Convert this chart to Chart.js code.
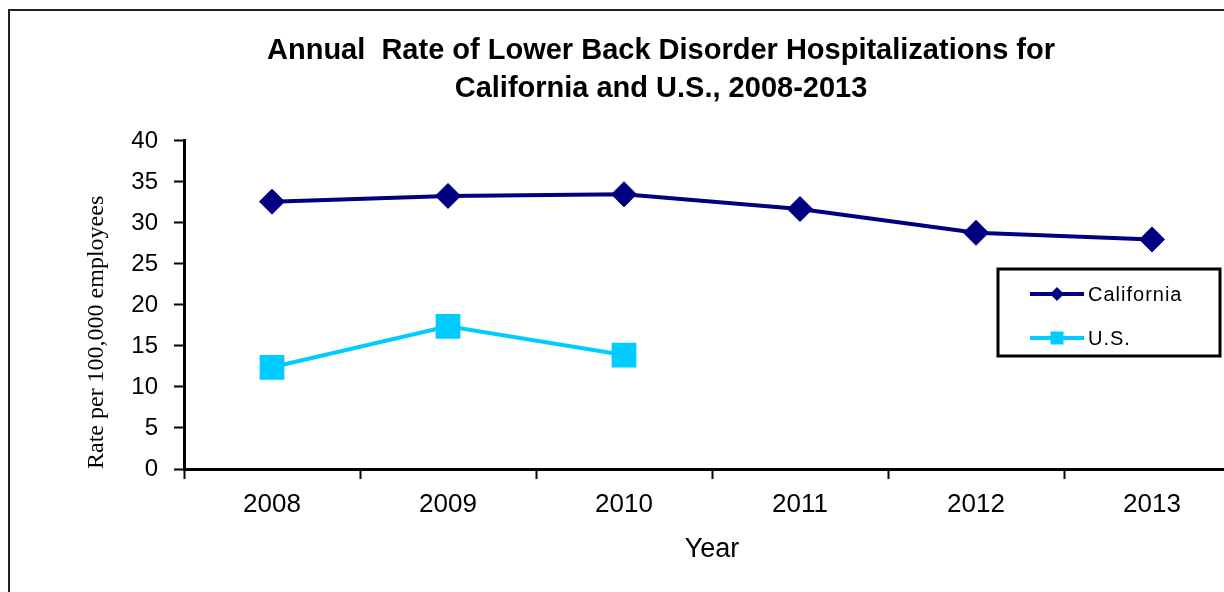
<!DOCTYPE html>
<html>
<head>
<meta charset="utf-8">
<script src="https://cdn.jsdelivr.net/npm/chart.js@4/dist/chart.umd.min.js"></script>
<style>
  html, body { margin: 0; padding: 0; background: #fff; overflow: hidden; }
  #clip { position: absolute; left: 0; top: 0; width: 1224px; height: 592px; overflow: hidden; }
  #wrap { position: absolute; left: 0; top: 0; width: 1240px; height: 592px; }
</style>
</head>
<body>
<div id="clip"><div id="wrap"><canvas id="c" width="1240" height="592"></canvas></div></div>
<script>
const years = ['2008', '2009', '2010', '2011', '2012', '2013'];
const californiaRates = [32.6, 33.3, 33.5, 31.7, 28.8, 28.0];
const usRates = [12.4, 17.4, 13.9, null, null, null];
const titleLines = ['Annual  Rate of Lower Back Disorder Hospitalizations for', 'California and U.S., 2008-2013'];
const yTitle = 'Rate per 100,000 employees';
const xTitle = 'Year';

const frame = {
  id: 'frame',
  beforeDraw(chart) {
    const ctx = chart.ctx;
    ctx.save();
    ctx.fillStyle = '#fff';
    ctx.fillRect(0, 0, chart.width, chart.height);
    ctx.strokeStyle = '#222';
    ctx.lineWidth = 2;
    ctx.strokeRect(9, 10, chart.width + 20, chart.height + 20);
    ctx.restore();
  }
};

const legendBox = {
  id: 'legendBox',
  afterDraw(chart) {
    const ctx = chart.ctx;
    ctx.save();
    const x0 = 998, y0 = 269, w = 222, h = 87;
    ctx.fillStyle = '#fff';
    ctx.fillRect(x0, y0, w, h);
    ctx.strokeStyle = '#000';
    ctx.lineWidth = 3;
    ctx.strokeRect(x0, y0, w, h);
    chart.data.datasets.forEach((ds, i) => {
      const y = 294 + i * 44;
      ctx.strokeStyle = ds.borderColor;
      ctx.lineWidth = 4;
      ctx.beginPath();
      ctx.moveTo(1030, y);
      ctx.lineTo(1084, y);
      ctx.stroke();
      ctx.fillStyle = ds.backgroundColor;
      ctx.beginPath();
      if (ds.pointStyle === 'rectRot') {
        const r = 7;
        ctx.moveTo(1057, y - r); ctx.lineTo(1057 + r, y);
        ctx.lineTo(1057, y + r); ctx.lineTo(1057 - r, y); ctx.closePath();
      } else {
        ctx.rect(1057 - 6.5, y - 6.5, 13, 13);
      }
      ctx.fill();
      ctx.fillStyle = '#000';
      ctx.font = '20px "Liberation Sans", Arial, sans-serif';
      ctx.letterSpacing = '1px';
      ctx.textBaseline = 'middle';
      ctx.textAlign = 'left';
      ctx.fillText(ds.label, 1088, y + 1);
    });
    ctx.restore();
  }
};

new Chart(document.getElementById('c'), {
  type: 'line',
  data: {
    labels: years,
    datasets: [
      {
        label: 'California',
        data: californiaRates,
        borderColor: '#000080',
        backgroundColor: '#000080',
        borderWidth: 4,
        pointStyle: 'rectRot',
        pointRadius: 12.5,
        pointBorderWidth: 1,
        pointBorderColor: '#000080',
        pointBackgroundColor: '#000080',
        tension: 0
      },
      {
        label: 'U.S.',
        data: usRates,
        borderColor: '#00CCFF',
        backgroundColor: '#00CCFF',
        borderWidth: 4,
        pointStyle: 'rect',
        pointRadius: 17.5,
        pointBorderWidth: 0,
        pointBackgroundColor: '#00CCFF',
        spanGaps: false,
        tension: 0
      }
    ]
  },
  options: {
    responsive: false,
    animation: false,
    events: [],
    layout: { autoPadding: false, padding: { left: 82, right: 0, top: 0, bottom: 0 } },
    plugins: {
      legend: { display: false },
      tooltip: { enabled: false },
      title: {
        display: true,
        text: titleLines,
        color: '#000',
        font: { family: '"Liberation Sans", Arial, sans-serif', size: 29, weight: 'bold', lineHeight: 1.31 },
        padding: { top: 32, bottom: 33 }
      }
    },
    scales: {
      x: {
        offset: true,
        grid: { display: true, offset: true, drawOnChartArea: false, drawTicks: true, tickLength: 10, tickWidth: 2, color: '#000' },
        border: { display: true, width: 3, color: '#000' },
        ticks: { color: '#000', padding: 10, font: { family: '"Liberation Sans", Arial, sans-serif', size: 26 } },
        title: { display: true, text: xTitle, color: '#000', font: { family: '"Liberation Sans", Arial, sans-serif', size: 27 }, padding: { top: 0, bottom: 26 } },
        afterFit(scale) { scale.height = 123; scale.paddingLeft = 0; scale.paddingRight = 0; }
      },
      y: {
        min: 0,
        max: 40,
        ticks: { stepSize: 5, color: '#000', padding: 16, font: { family: '"Liberation Sans", Arial, sans-serif', size: 24 } },
        grid: { display: true, drawOnChartArea: false, drawTicks: true, tickLength: 10, tickWidth: 2, color: '#000' },
        border: { display: true, width: 3, color: '#000' },
        title: { display: true, text: yTitle, align: 'start', color: '#000', font: { family: '"Liberation Serif", "Times New Roman", serif', size: 24 }, padding: { top: 0, bottom: 0 } },
        afterFit(scale) { scale.width = 102; }
      }
    }
  },
  plugins: [frame, legendBox]
});
</script>
</body>
</html>
